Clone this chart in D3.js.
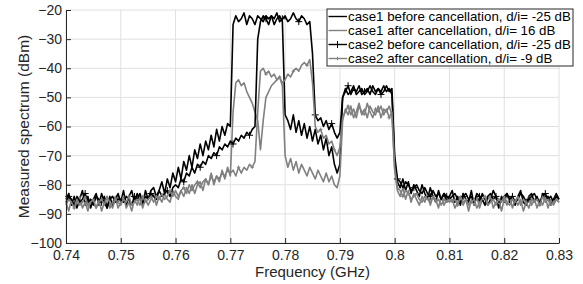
<!DOCTYPE html>
<html>
<head>
<meta charset="utf-8">
<script src="https://cdn.jsdelivr.net/npm/d3@7"></script>
<style>
  body { margin: 0; background: #fff; }
  svg text { font-family: "Liberation Sans", Arial, Helvetica, sans-serif; fill: #262626; }
</style>
</head>
<body>
<div id="chart"></div>
<script>
// sampling grid of the spectrum (GHz)
var freqStart = 0.74, freqStep = 0.0005;

var xTicks = [0.74, 0.75, 0.76, 0.77, 0.78, 0.79, 0.80, 0.81, 0.82, 0.83];
var xTickLabels = ["0.74", "0.75", "0.76", "0.77", "0.78", "0.79", "0.8", "0.81", "0.82", "0.83"];
var yTicks = [-100, -90, -80, -70, -60, -50, -40, -30, -20];

var seriesNames = [
  "case1 before cancellation, d/i= -25 dB",
  "case1 after cancellation, d/i= 16 dB",
  "case2 before cancellation, d/i= -25 dB",
  "case2 after cancellation, d/i= -9 dB"
];

// case1 before cancellation (dBm)
var case1Before = [
  -85,-83,-87,-84,-88,-85,-82,-87,-84,-88,-85,-83,-87,-83,-86,-88,-84,-87,-85,-83,
  -86,-82,-87,-84,-82,-86,-83,-85,-87,-82,-85,-82,-81,-84,
  -82,-79,-83,-78,-81,-76,-79,-74,-78,-72,-75,-70,-74,-68,-71,-66,-70,-65,-68,-63,-67,-61,-65,-60,-63,-59,
  -60,-25,-22,-24,-23,-21,-25,-22,-23,-25,-22,-23,-24,-22,-23,-22,-25,-23,-22,-24,
  -56,-58,-61,-56,-62,-58,-63,-59,-64,-60,-65,-61,-66,-63,-68,-64,-70,-67,-73,-76,-73,
  -50,-47,-49,-48,-46,-49,-48,-47,-49,-48,-46,-48,-49,-47,-48,-46,-48,-47,-49,
  -72,-79,-81,-78,-82,-79,-83,-80,-82,-84,-80,-83,-85,-81,-84,-86,-82,-85,-83,-86,-84,
  -82,-86,-84,-87,-83,-85,-86,-82,-87,-84,-86,-83,-85,-87,-85,-82,-84,-88,-84,-86,
  -83,-86,-84,-87,-84,-82,-86,-87,-84,-83,-86,-84,-87,-83,-85,-84,-87,-85,-83,-85
];

// case1 after cancellation (dBm)
var case1After = [
  -86,-89,-85,-88,-86,-84,-88,-86,-89,-85,-86,-88,-85,-89,-86,-84,-88,-86,-84,-88,
  -86,-84,-88,-86,-89,-85,-87,-84,-88,-85,-87,-85,-83,-87,-84,-86,-83,-85,-86,-82,
  -84,-85,-82,-84,-81,-83,-80,-83,-80,-79,-82,-78,-80,-76,-80,-77,-79,-75,-78,-74,-77,
  -55,-45,-44,-46,-45,-48,-50,-52,-55,-58,-68,-58,-50,-48,-46,-45,-44,-43,-46,
  -70,-74,-71,-75,-72,-76,-73,-75,-77,-74,-76,-78,-75,-77,-79,-76,-79,-77,-80,-81,-77,
  -58,-54,-56,-53,-57,-55,-52,-56,-54,-57,-53,-55,-56,-53,-57,-54,-55,-53,-56,
  -75,-82,-84,-81,-85,-82,-86,-83,-85,-87,-84,-86,-83,-87,-84,-85,-88,-84,-87,-85,-86,
  -85,-88,-86,-84,-87,-85,-89,-85,-87,-84,-88,-85,-87,-85,-84,-88,-86,-85,-89,-85,
  -87,-84,-88,-85,-87,-85,-89,-86,-84,-87,-85,-88,-85,-87,-84,-88,-85,-87,-85,-86
];

// case2 before cancellation (dBm)
var case2Before = [
  -86,-84,-85,-87,-84,-86,-85,-83,-86,-85,-87,-84,-85,-86,-84,-88,-85,-84,-86,-85,
  -85,-86,-84,-85,-87,-84,-85,-83,-86,-84,-85,-83,-84,-85,-82,-84,-83,-82,-84,-81,
  -80,-81,-78,-79,-76,-77,-74,-76,-73,-74,-72,-73,-70,-71,-69,-70,-67,-68,-66,-67,
  -65,-66,-64,-65,-63,-64,-62,-63,-61,-60,
  -30,-24,-22,-23,-25,-22,-23,-21,-24,-23,-22,-24,-23,-21,-23,-24,-22,-23,-25,-24,
  -35,-56,-58,-57,-60,-58,-61,-59,-62,-64,-62,
  -50,-48,-46,-49,-47,-48,-46,-49,-48,-47,-49,-46,-48,-47,-49,-48,-46,-48,-47,
  -70,-78,-79,-81,-79,-80,-82,-81,-80,-82,-83,-81,-83,-84,-82,-84,-83,-85,-83,-84,-85,
  -84,-83,-85,-86,-84,-83,-85,-84,-86,-83,-84,-85,-87,-84,-83,-85,-84,-86,-85,-84,
  -83,-85,-84,-86,-85,-83,-84,-86,-85,-84,-83,-85,-86,-84,-83,-85,-84,-86,-84,-85
];

// case2 after cancellation (dBm)
var case2After = [
  -87,-85,-86,-88,-85,-87,-86,-84,-87,-86,-85,-88,-86,-85,-87,-84,-86,-88,-85,-86,
  -87,-85,-86,-84,-87,-86,-85,-87,-84,-86,-85,-84,-86,-84,-85,-83,-85,-84,-82,-84,
  -82,-84,-82,-81,-83,-80,-82,-80,-79,-81,-79,-78,-80,-77,-79,-77,-78,-76,-77,-75,
  -76,-75,-77,-74,-76,-74,-75,-73,-74,-72,
  -55,-41,-40,-42,-41,-43,-42,-44,-43,-45,-44,-42,-43,-41,-40,-41,-39,-38,-39,-37,
  -45,-60,-62,-61,-64,-63,-66,-65,-68,-70,-67,
  -57,-55,-53,-56,-54,-57,-53,-55,-56,-52,-55,-57,-54,-55,-53,-56,-54,-57,-55,
  -74,-81,-82,-84,-82,-83,-85,-84,-83,-85,-86,-84,-85,-86,-84,-86,-85,-87,-85,-86,-85,
  -86,-85,-87,-84,-86,-85,-87,-86,-85,-88,-86,-85,-84,-87,-86,-85,-87,-85,-86,-84,
  -86,-87,-85,-86,-84,-87,-85,-86,-88,-85,-86,-85,-87,-84,-86,-85,-87,-86,-85,-86
];

var W = 583, H = 284;
var margin = {top: 10, right: 24, bottom: 41, left: 66},
    width = W - margin.left - margin.right,
    height = H - margin.top - margin.bottom;

var x = d3.scaleLinear().domain([0.74, 0.83]).range([0, width]);
var y = d3.scaleLinear().domain([-100, -20]).range([height, 0]);

var svg = d3.select("#chart")
  .append("svg")
    .attr("width", W)
    .attr("height", H)
  .append("g")
    .attr("transform", "translate(" + margin.left + "," + margin.top + ")");

// grid
svg.append("g").selectAll("line").data(xTicks).enter().append("line")
  .attr("x1", function(d) { return x(d); }).attr("x2", function(d) { return x(d); })
  .attr("y1", 0).attr("y2", height)
  .style("stroke", "#e0e0e0").style("stroke-width", 1);
svg.append("g").selectAll("line").data(yTicks).enter().append("line")
  .attr("x1", 0).attr("x2", width)
  .attr("y1", function(d) { return y(d); }).attr("y2", function(d) { return y(d); })
  .style("stroke", "#e0e0e0").style("stroke-width", 1);

function toPoints(arr) {
  return arr.map(function(v, i) { return {f: freqStart + i * freqStep, v: v}; });
}

var line = d3.line()
  .x(function(d) { return x(d.f); })
  .y(function(d) { return y(d.v); });

var series = [
  {data: case1Before, color: "#000", marker: 0},
  {data: case1After, color: "#808080", marker: 0},
  {data: case2Before, color: "#000", marker: 7},
  {data: case2After, color: "#808080", marker: 3.5}
];

var plot = svg.append("g");
series.forEach(function(s, k) {
  var pts = toPoints(s.data);
  plot.append("path")
    .attr("d", line(pts))
    .style("fill", "none")
    .style("stroke", s.color)
    .style("stroke-width", 1.6)
    .style("stroke-linejoin", "round");
  if (s.marker) {
    var every = k == 2 ? 6 : 5;
    var m = s.marker / 2;
    plot.append("g").selectAll("path")
      .data(pts.filter(function(d, i) { return i % every == (k == 2 ? 1 : 3); }))
      .enter().append("path")
      .attr("d", function(d) {
        var px = x(d.f), py = y(d.v);
        return "M" + (px - m) + "," + py + "H" + (px + m) + "M" + px + "," + (py - m) + "V" + (py + m);
      })
      .style("stroke", s.color)
      .style("stroke-width", 1);
  }
});

// axes (ticks inward)
var xAxis = d3.axisBottom(x).tickValues(xTicks)
  .tickFormat(function(d, i) { return xTickLabels[i]; })
  .tickSize(-5).tickSizeOuter(0).tickPadding(7);
var yAxis = d3.axisLeft(y).tickValues(yTicks).tickFormat(d3.format("d"))
  .tickSize(-5).tickSizeOuter(0).tickPadding(4);

var gx = svg.append("g")
  .attr("transform", "translate(0," + height + ")")
  .call(xAxis);
var gy = svg.append("g").call(yAxis);
[gx, gy].forEach(function(g) {
  g.select(".domain").style("stroke", "#262626");
  g.selectAll(".tick line").style("stroke", "#262626");
  g.selectAll(".tick text").style("font-size", "14px")
    .style("font-family", "'Liberation Sans', Arial, sans-serif").style("fill", "#262626");
});

svg.append("text")
  .attr("x", width / 2)
  .attr("y", height + 34)
  .attr("text-anchor", "middle")
  .style("font-size", "15px")
  .text("Frequency (GHz)");

svg.append("text")
  .attr("transform", "rotate(-90)")
  .attr("x", -height / 2)
  .attr("y", -37)
  .attr("text-anchor", "middle")
  .style("font-size", "15.5px")
  .text("Measured spectrum (dBm)");

// legend
var lg = d3.select("svg").append("g").attr("transform", "translate(327,9)");
lg.append("rect")
  .attr("width", 246).attr("height", 57)
  .style("fill", "#fff").style("stroke", "#262626").style("stroke-width", 1);
seriesNames.forEach(function(name, i) {
  var s = series[i], cy = 7.5 + i * 14;
  lg.append("line")
    .attr("x1", 1.5).attr("x2", 20).attr("y1", cy).attr("y2", cy)
    .style("stroke", s.color).style("stroke-width", 1.4);
  if (s.marker) {
    var m = s.marker / 2;
    lg.append("path")
      .attr("d", "M" + (10.5 - m) + "," + cy + "H" + (10.5 + m) + "M10.5," + (cy - m) + "V" + (cy + m))
      .style("stroke", s.color).style("stroke-width", 1);
  }
  lg.append("text")
    .attr("x", 21).attr("y", cy + 4.8)
    .style("font-size", "13.3px")
    .style("fill", "#000")
    .text(name);
});
</script>
</body>
</html>
